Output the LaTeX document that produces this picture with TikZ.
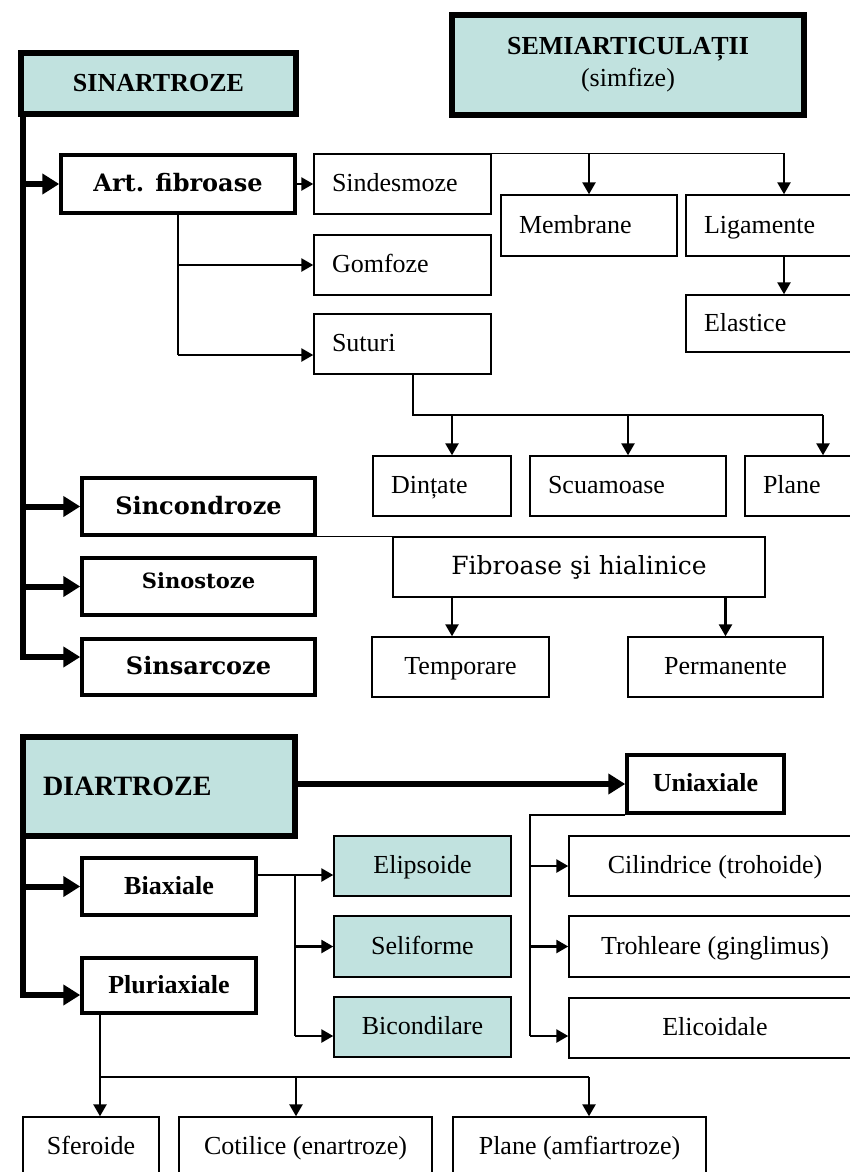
\documentclass[tikz,border=0pt]{standalone}
\usepackage{fontspec}
\setmainfont{Liberation Serif}
\newfontfamily\slabfont{DejaVu Serif}
\usetikzlibrary{arrows.meta}
\definecolor{headteal}{RGB}{193,226,223}
\tikzset{
  headbox/.style={draw, line width=6pt, fill=headteal, inner sep=0pt,
    font=\bfseries\fontsize{26}{32}\selectfont},
  groupbox/.style={draw, line width=3.5pt, fill=white, inner sep=0pt,
    text height=19pt, text depth=4pt, font=\bfseries\fontsize{26}{30}\selectfont},
  slabbox/.style={groupbox, font=\slabfont\bfseries\fontsize{#1}{#1}\selectfont},
  leafbox/.style={draw, line width=1.4pt, fill=white, inner sep=0pt,
    text height=19pt, text depth=4pt, font=\fontsize{26}{30}\selectfont},
  leftbox/.style={leafbox, align=left, inner xsep=18pt},
  tealbox/.style={leafbox, fill=headteal},
  spine/.style={line width=6pt, -{Triangle[length=17pt,width=20pt]}},
  arr/.style={line width=2.5pt, -{Triangle[length=12pt,width=13pt]}},
  bus/.style={line width=1.5pt}
}

\begin{document}
\begin{tikzpicture}[x=1pt,y=-1pt]
  \useasboundingbox (0,0) rectangle (850,1172);
  \clip (0,0) rectangle (850,1172);

  % upper half: sinartroze and semiarticulatii
  \node[headbox, minimum width=275, minimum height=61] (sinartroze) at (158.5,83.5) {SINARTROZE};
  \node[headbox, minimum width=352, minimum height=100, align=center] (semiart) at (628,65)
    {SEMIARTICULAȚII\\{\mdseries (simfize)}};

  \node[slabbox=24, minimum width=234, minimum height=58] (artfib) at (178,184) {Art. fibroase};
  \node[slabbox=24, minimum width=233, minimum height=57] (sincondroze) at (198.5,506.5) {Sincondroze};
  \node[slabbox=21, minimum width=233, minimum height=57, text depth=15pt] (sinostoze) at (198.5,586.5) {Sinostoze};
  \node[slabbox=24, minimum width=233, minimum height=56] (sinsarcoze) at (198.5,667) {Sinsarcoze};

  \node[leftbox, text width=141, minimum height=60] (sindesmoze) at (402.5,184) {Sindesmoze};
  \node[leftbox, text width=141, minimum height=60] (gomfoze) at (402.5,265) {Gomfoze};
  \node[leftbox, text width=141, minimum height=60] (suturi) at (402.5,344) {Suturi};
  \node[leftbox, text width=140, minimum height=61] (membrane) at (589,225.5) {Membrane};
  \node[leftbox, text width=160, minimum height=61] (ligamente) at (784,225.5) {Ligamente};
  \node[leftbox, text width=160, minimum height=57] (elastice) at (784,323.5) {Elastice};
  \node[leftbox, text width=102, minimum height=60] (dintate) at (442,486) {Dințate};
  \node[leftbox, text width=160, minimum height=60] (scuamoase) at (628,486) {Scuamoase};
  \node[leftbox, text width=120, minimum height=60] (planeS) at (823,486) {Plane};

  \node[leafbox, minimum width=372, minimum height=60,
    font=\slabfont\fontsize{25}{28}\selectfont] (fibroase) at (579,567) {Fibroase şi hialinice};
  \node[leafbox, minimum width=177, minimum height=60] (temporare) at (460.5,667) {Temporare};
  \node[leafbox, minimum width=195, minimum height=60] (permanente) at (725.5,667) {Permanente};

  % spine
  \coordinate (sj) at (23,657);
  \draw[spine] (sinartroze.south west -| sj) -- (sj) -- (sj -| sinsarcoze.west);
  \foreach \n in {artfib,sincondroze,sinostoze}
    \draw[spine] (sj |- \n.west) -- (\n.west);

  % fibroase
  \coordinate (sa) at ([yshift=-11pt]suturi.west);
  \draw[arr] (artfib) -- (sindesmoze);
  \draw[bus] (artfib.south) -- (artfib.south |- sa);
  \draw[arr] (artfib.south |- gomfoze.west) -- (gomfoze.west);
  \draw[arr] (artfib.south |- sa) -- (sa);

  \draw[bus] (sindesmoze.north east) -- (sindesmoze.north east -| ligamente.north);
  \draw[arr] (sindesmoze.north east -| membrane.north) -- (membrane.north);
  \draw[arr] (sindesmoze.north east -| ligamente.north) -- (ligamente.north);
  \draw[arr] (ligamente) -- (elastice);

  \coordinate (sb) at (413,415);
  \coordinate (colL) at (452,0);
  \draw[bus] (suturi.south -| sb) -- (sb) -- (sb -| planeS.north);
  \draw[arr] (sb -| colL) -- (dintate.north -| colL);
  \draw[arr] (sb -| scuamoase.north) -- (scuamoase.north);
  \draw[arr] (sb -| planeS.north) -- (planeS.north);

  % sincondroze
  \draw[bus] (fibroase.north west -| sincondroze.east) -- (fibroase.north west);
  \draw[arr] (fibroase.south -| colL) -- (temporare.north -| colL);
  \draw[arr] (fibroase.south -| permanente.north) -- (permanente.north);

  % lower half: diartroze
  \node[headbox, minimum height=99, text width=232, inner xsep=20pt, align=left,
    font=\bfseries\fontsize{28}{32}\selectfont] (diartroze) at (159,786.5) {DIARTROZE};
  \node[groupbox, minimum width=157, minimum height=58] (uniaxiale) at (705.5,784) {Uniaxiale};
  \node[groupbox, minimum width=174, minimum height=57] (biaxiale) at (169,886.5) {Biaxiale};
  \node[groupbox, minimum width=174, minimum height=55] (pluriaxiale) at (169,985.5) {Pluriaxiale};

  \node[tealbox, minimum width=177, minimum height=60] (elipsoide) at (422.5,866) {Elipsoide};
  \node[tealbox, minimum width=177, minimum height=61] (seliforme) at (422.5,946.5) {Seliforme};
  \node[tealbox, minimum width=177, minimum height=60] (bicondilare) at (422.5,1027) {Bicondilare};

  \node[leafbox, minimum width=292, minimum height=60] (cilindrice) at (715,866) {Cilindrice (trohoide)};
  \node[leafbox, minimum width=292, minimum height=61] (trohleare) at (715,946.5) {Trohleare (ginglimus)};
  \node[leafbox, minimum width=292, minimum height=60] (elicoidale) at (715,1028) {Elicoidale};

  \node[leafbox, minimum width=136, minimum height=60] (sferoide) at (91,1147) {Sferoide};
  \node[leafbox, minimum width=253, minimum height=60] (cotilice) at (305.5,1147) {Cotilice (enartroze)};
  \node[leafbox, minimum width=253, minimum height=60] (planeA) at (579.5,1147) {Plane (amfiartroze)};

  \coordinate (dj) at (23,995);
  \draw[spine] (diartroze.south west -| dj) -- (dj) -- (dj -| pluriaxiale.west);
  \draw[spine] (dj |- biaxiale.west) -- (biaxiale.west);
  \draw[spine] (diartroze.east |- uniaxiale.west) -- (uniaxiale.west);

  % biaxiale
  \coordinate (ea) at ([yshift=-9pt]elipsoide.west);
  \coordinate (ba) at ([yshift=-9pt]bicondilare.west);
  \coordinate (bv) at (295,0);
  \draw[arr] (biaxiale.east |- ea) -- (ea);
  \draw[bus] (bv |- ea) -- (bv |- ba);
  \draw[arr] (bv |- seliforme.west) -- (seliforme.west);
  \draw[arr] (bv |- ba) -- (ba);

  % uniaxiale
  \coordinate (la) at ([yshift=-8pt]elicoidale.west);
  \coordinate (uv) at (530,0);
  \draw[bus] (uniaxiale.south west) -- (uniaxiale.south west -| uv) -- (uv |- la);
  \draw[arr] (uv |- cilindrice.west) -- (cilindrice.west);
  \draw[arr] (uv |- trohleare.west) -- (trohleare.west);
  \draw[arr] (uv |- la) -- (la);

  % pluriaxiale
  \coordinate (pb) at (100,1077);
  \coordinate (sfa) at ([xshift=9pt]sferoide.north);
  \coordinate (cta) at ([xshift=-9.5pt]cotilice.north);
  \coordinate (pla) at ([xshift=9.5pt]planeA.north);
  \draw[bus] (pluriaxiale.south -| pb) -- (pb) -- (pb -| pla);
  \draw[arr] (pb -| sfa) -- (sfa);
  \draw[arr] (pb -| cta) -- (cta);
  \draw[arr] (pb -| pla) -- (pla);
\end{tikzpicture}
\end{document}
